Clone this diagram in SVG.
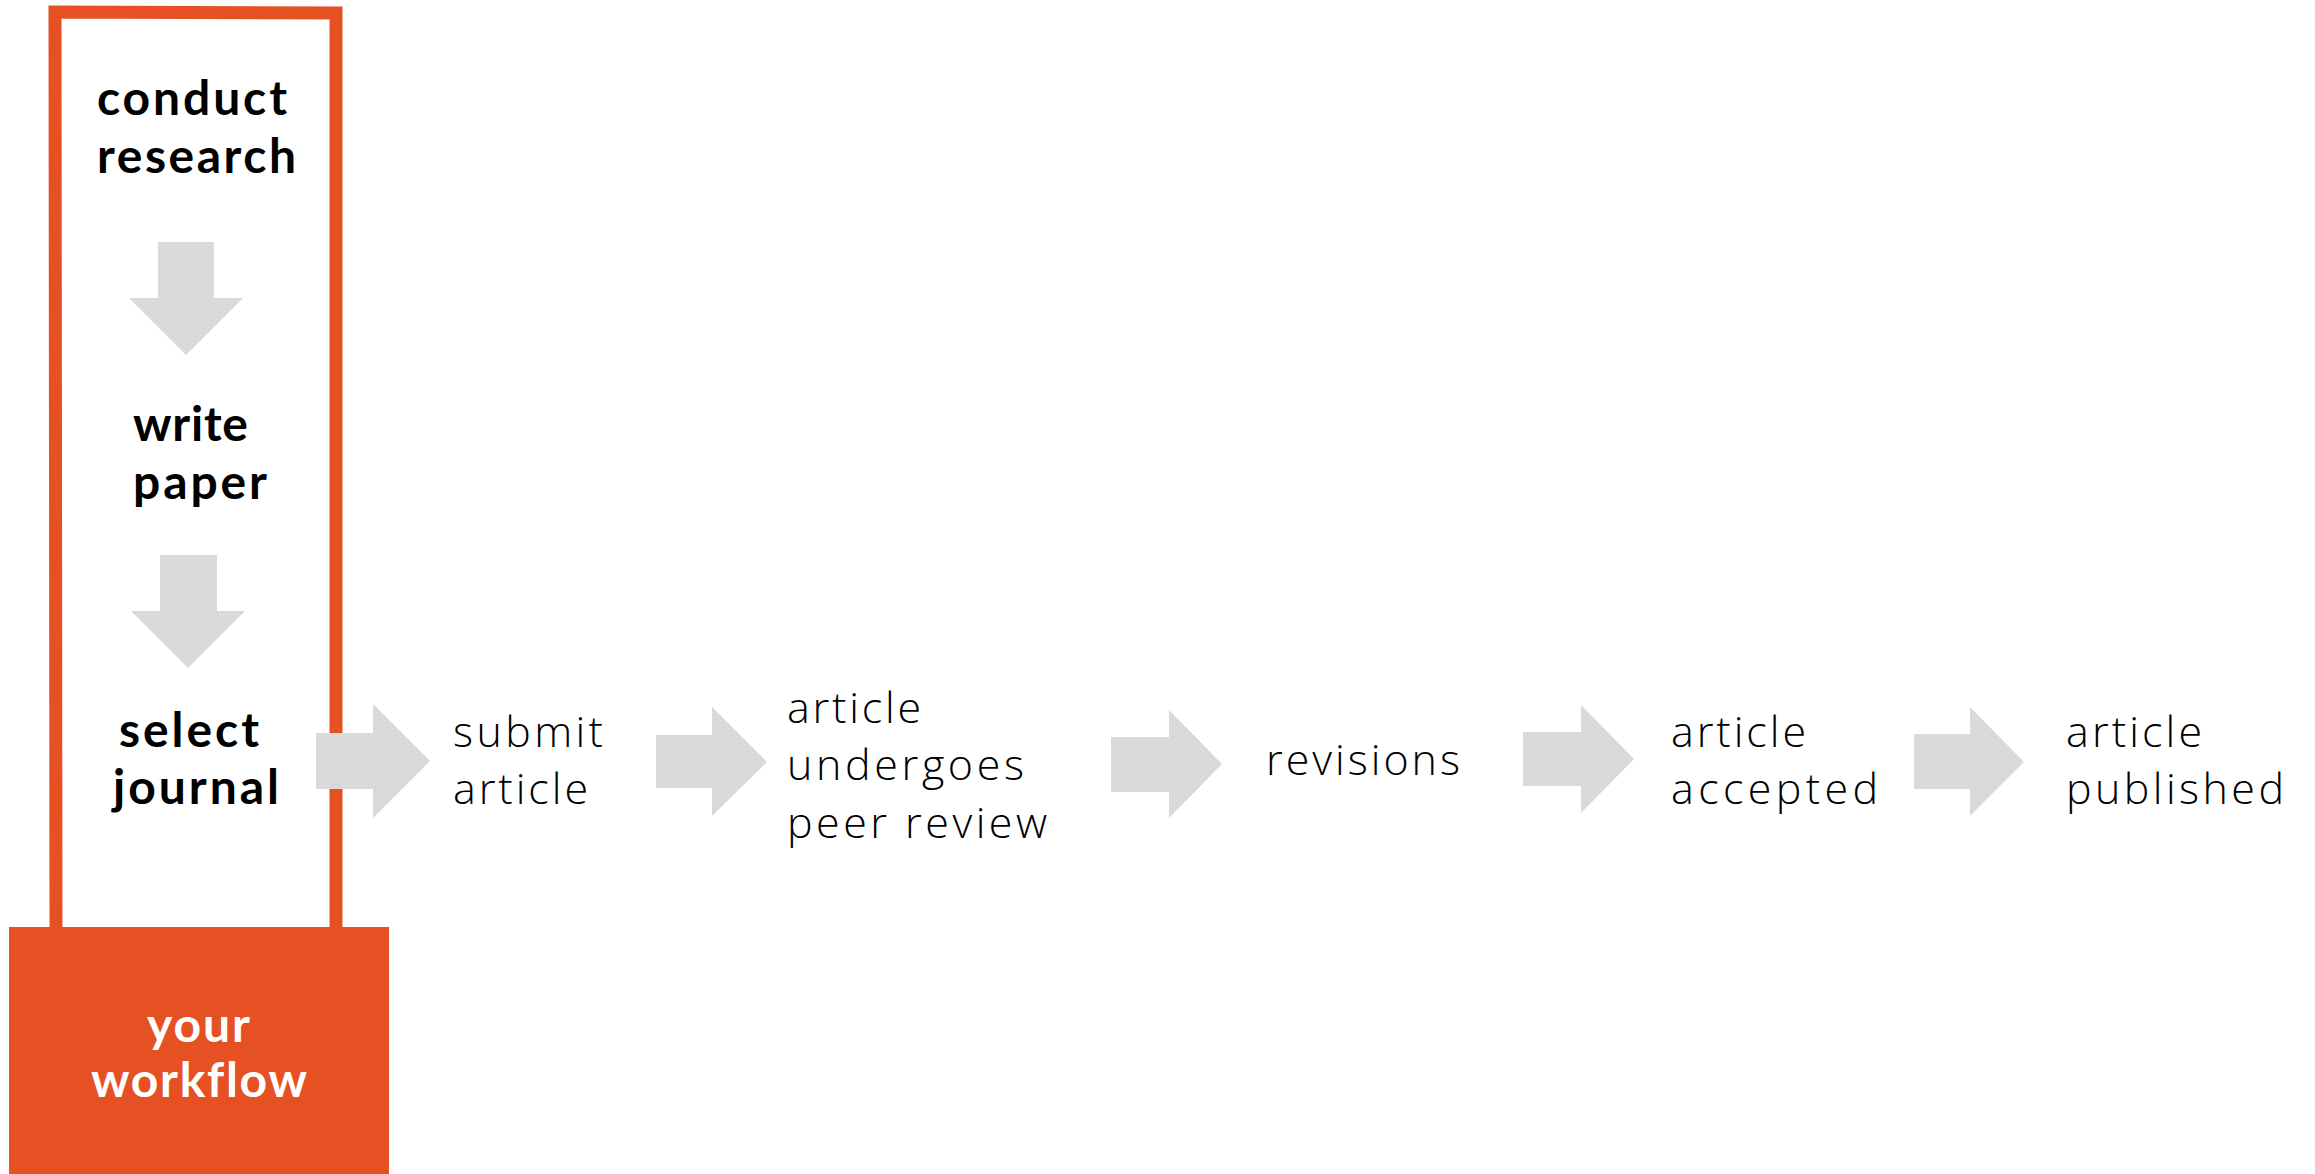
<svg xmlns="http://www.w3.org/2000/svg" width="2315" height="1174" viewBox="0 0 2315 1174">
<style>
text{font-variant-ligatures:none}
.b{font-family:Lato,"Liberation Sans",sans-serif;font-weight:bold;font-size:48px;fill:#000}
.w{font-family:Lato,"Liberation Sans",sans-serif;font-weight:bold;font-size:48px;fill:#fff}
.r{font-family:"Open Sans","Liberation Sans",sans-serif;font-weight:300;font-size:43px;fill:#000}
.ar{fill:#d9d9d9}
</style>
<rect width="2315" height="1174" fill="#fff"/>
<g id="frame">
<path d="M56,927 L55,12 L336,13 L336,927" fill="none" stroke="#e55122" stroke-width="13" stroke-linejoin="miter"/>
</g>
<g id="your-workflow">
<rect x="9" y="927" width="380" height="247" fill="#e55122"/>
<text class="w" x="147" y="1042" textLength="103">your</text>
<text class="w" x="91" y="1097" textLength="216">workflow</text>
</g>
<g id="conduct-research">
<text class="b" x="97" y="115" textLength="190">conduct</text>
<text class="b" x="97" y="173" textLength="199">research</text>
</g>
<g id="write-paper">
<text class="b" x="133" y="441" textLength="115">write</text>
<text class="b" x="133" y="499" textLength="134">paper</text>
</g>
<g id="select-journal">
<text class="b" x="119" y="747" textLength="140">select</text>
<text class="b" x="113" y="804" textLength="166">journal</text>
</g>
<g id="submit-article">
<text class="r" x="453" y="747" textLength="150">submit</text>
<text class="r" x="453" y="804" textLength="135">article</text>
</g>
<g id="peer-review">
<text class="r" x="787" y="723" textLength="134">article</text>
<text class="r" x="787" y="780" textLength="237">undergoes</text>
<text class="r" x="787" y="838" textLength="260">peer review</text>
</g>
<g id="revisions">
<text class="r" x="1266" y="775" textLength="194">revisions</text>
</g>
<g id="article-accepted">
<text class="r" x="1671" y="747" textLength="135">article</text>
<text class="r" x="1671" y="804" textLength="207">accepted</text>
</g>
<g id="article-published">
<text class="r" x="2066" y="747" textLength="136">article</text>
<text class="r" x="2066" y="804" textLength="218">published</text>
</g>
<g id="connectors">
<polygon class="ar" points="158,242 214,242 214,298 243,298 186,355 129,298 158,298"/>
<polygon class="ar" points="160,555 217,555 217,611 245,611 188,668 131,611 160,611"/>
<polygon class="ar" points="316,733 373,733 373,704 430,761 373,818 373,789 316,789"/>
<polygon class="ar" points="656,735 712,735 712,707 767,762 712,816 712,788 656,788"/>
<polygon class="ar" points="1111,737 1169,737 1169,710 1222,764 1169,818 1169,792 1111,792"/>
<polygon class="ar" points="1523,732 1581,732 1581,705 1634,759 1581,813 1581,786 1523,786"/>
<polygon class="ar" points="1914,734 1970,734 1970,707 2024,762 1970,816 1970,789 1914,789"/>
</g>
</svg>
